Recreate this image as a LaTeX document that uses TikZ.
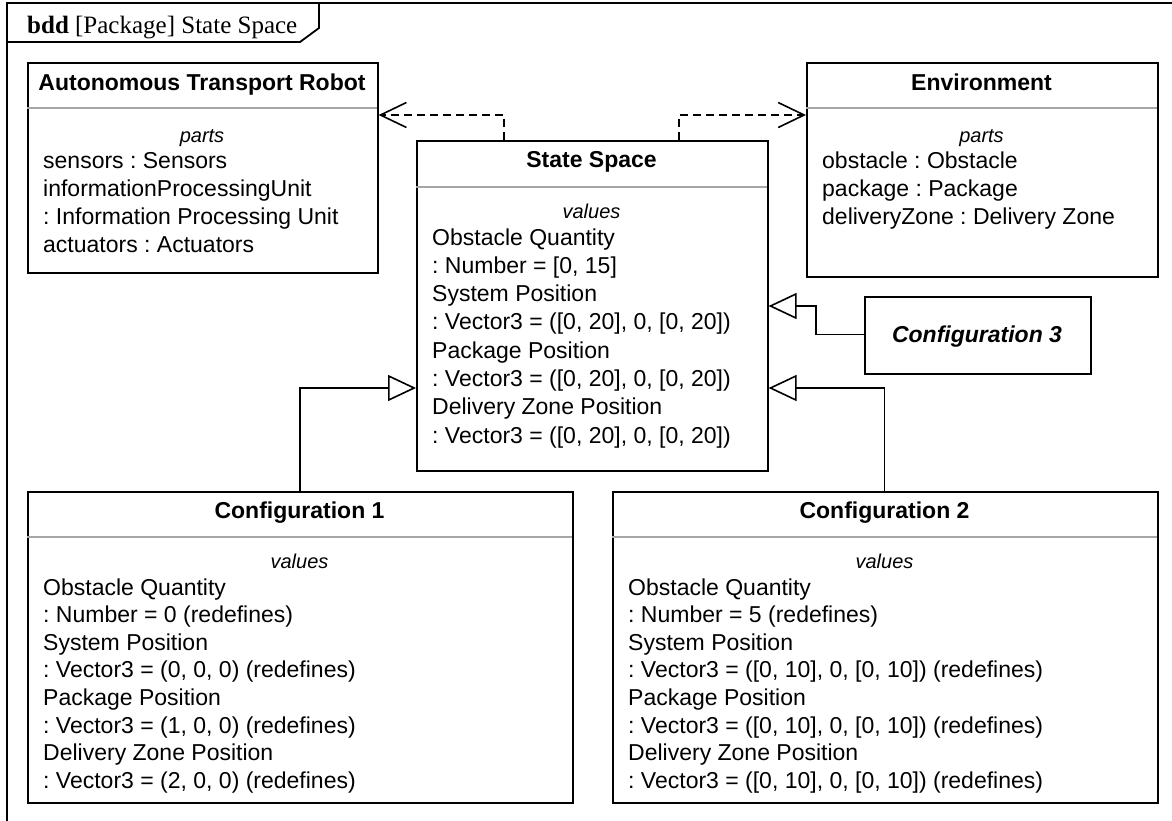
\documentclass[tikz,border=0pt]{standalone}
\usepackage{fontspec}
\setmainfont{Liberation Sans}
\newfontfamily\framefont{Liberation Serif}
\usetikzlibrary{arrows.meta}
\frenchspacing
\tikzset{
  box/.style={draw=black, line width=1.6pt, fill=white, rectangle, anchor=north west, inner sep=0},
  sepline/.style={draw=black!35, line width=1.6pt},
  ttl/.style={font=\fontsize{23}{28.3}\selectfont\bfseries, inner sep=0, anchor=base},
  kw/.style={font=\fontsize{20}{24}\selectfont\itshape, inner sep=0, anchor=base},
  body/.style={font=\frenchspacing\fontsize{23}{28.3}\selectfont, inner sep=0, anchor=base west, align=left},
  bodyc/.style={font=\frenchspacing\fontsize{23}{27.6}\selectfont, inner sep=0, anchor=base west, align=left},
  dep/.style={draw=black, line width=1.3pt, dash pattern=on 8pt off 5pt, -{Straight Barb[length=26pt, width=25pt, line width=1.6pt]}},
  gen/.style={draw=black, line width=1.6pt, -{Triangle[open, length=28pt, width=26pt, fill=white]}},
}
\begin{document}
\begin{tikzpicture}[x=1pt, y=-1pt]
\useasboundingbox (0,0) rectangle (1172,820);
\fill[white] (0,0) rectangle (1172,820);
% frame
\draw[line width=1.8pt] (7,840) -- (7,3) -- (1190,3);
\draw[line width=1.8pt] (7,42) -- (300,42) -- (319,28) -- (319,3);
\node[inner sep=0, anchor=base west, font=\framefont\fontsize{25}{30}\selectfont] (flabel) at (27,33) {\textbf{bdd} [Package] State Space};

% Autonomous Transport Robot
\node[box, minimum width=350pt, minimum height=210pt] (atr) at (27,62) {};
\draw[sepline] (27,108) -- (377,108);
\node[ttl] (atrT) at (202,90) {Autonomous Transport Robot};
\node[kw] (atrK) at (202,142) {parts};
\node[body] (atrB) at (43,252.9) {sensors : Sensors\\informationProcessingUnit\\: Information Processing Unit\\actuators : Actuators};

% Environment
\node[box, minimum width=351pt, minimum height=214pt] (env) at (806,62) {};
\draw[sepline] (806,108) -- (1157,108);
\node[ttl] (envT) at (981.5,90) {Environment};
\node[kw] (envK) at (981.5,142) {parts};
\node[body] (envB) at (822,224.6) {obstacle : Obstacle\\package : Package\\deliveryZone : Delivery Zone};

% State Space
\node[box, minimum width=351pt, minimum height=330pt] (ss) at (416,140) {};
\draw[sepline] (416,187) -- (767,187);
\node[ttl] (ssT) at (591.5,167) {State Space};
\node[kw] (ssK) at (591.5,218) {values};
\node[body] (ssB) at (432,443.1) {Obstacle Quantity\\: Number = [0, 15]\\System Position\\: Vector3 = ([0, 20], 0, [0, 20])\\Package Position\\: Vector3 = ([0, 20], 0, [0, 20])\\Delivery Zone Position\\: Vector3 = ([0, 20], 0, [0, 20])};

% Configuration 3
\node[box, minimum width=226pt, minimum height=77pt] (c3) at (864,296) {};
\node[ttl, font=\fontsize{23}{28.3}\selectfont\bfseries\itshape] (c3T) at (977,342.5) {Configuration 3};

% Configuration 1
\node[box, minimum width=545pt, minimum height=311pt] (c1) at (27,491) {};
\draw[sepline] (27,537) -- (572,537);
\node[ttl] (c1T) at (299.5,518) {Configuration 1};
\node[kw] (c1K) at (299.5,568) {values};
\node[bodyc] (c1B) at (43,788.2) {Obstacle Quantity\\: Number = 0 (redefines)\\System Position\\: Vector3 = (0, 0, 0) (redefines)\\Package Position\\: Vector3 = (1, 0, 0) (redefines)\\Delivery Zone Position\\: Vector3 = (2, 0, 0) (redefines)};

% Configuration 2
\node[box, minimum width=545pt, minimum height=311pt] (c2) at (612,491) {};
\draw[sepline] (612,537) -- (1157,537);
\node[ttl] (c2T) at (884.5,518) {Configuration 2};
\node[kw] (c2K) at (884.5,568) {values};
\node[bodyc] (c2B) at (628,788.2) {Obstacle Quantity\\: Number = 5 (redefines)\\System Position\\: Vector3 = ([0, 10], 0, [0, 10]) (redefines)\\Package Position\\: Vector3 = ([0, 10], 0, [0, 10]) (redefines)\\Delivery Zone Position\\: Vector3 = ([0, 10], 0, [0, 10]) (redefines)};

% connector coordinates
\coordinate (d1s) at (504,140);
\coordinate (d1b) at (504,115);
\coordinate (d2s) at (679,140);
\coordinate (d2b) at (679,115);
\coordinate (g3a) at (816,334.5);
\coordinate (g3b) at (816,306);
\coordinate (g1b) at (300,388);
\coordinate (g2b) at (884.5,388);

% dependencies
\draw[dep] (d1s) -- (d1b) -- (atr.east |- d1b);
\draw[dep] (d2s) -- (d2b) -- (env.west |- d2b);
% generalizations
\draw[gen] (c3.west |- g3a) -- (g3a) -- (g3b) -- (ss.east |- g3b);
\draw[gen] (c1.north -| g1b) -- (g1b) -- (ss.west |- g1b);
\draw[gen] (c2.north -| g2b) -- (g2b) -- (ss.east |- g2b);
\end{tikzpicture}
\end{document}
